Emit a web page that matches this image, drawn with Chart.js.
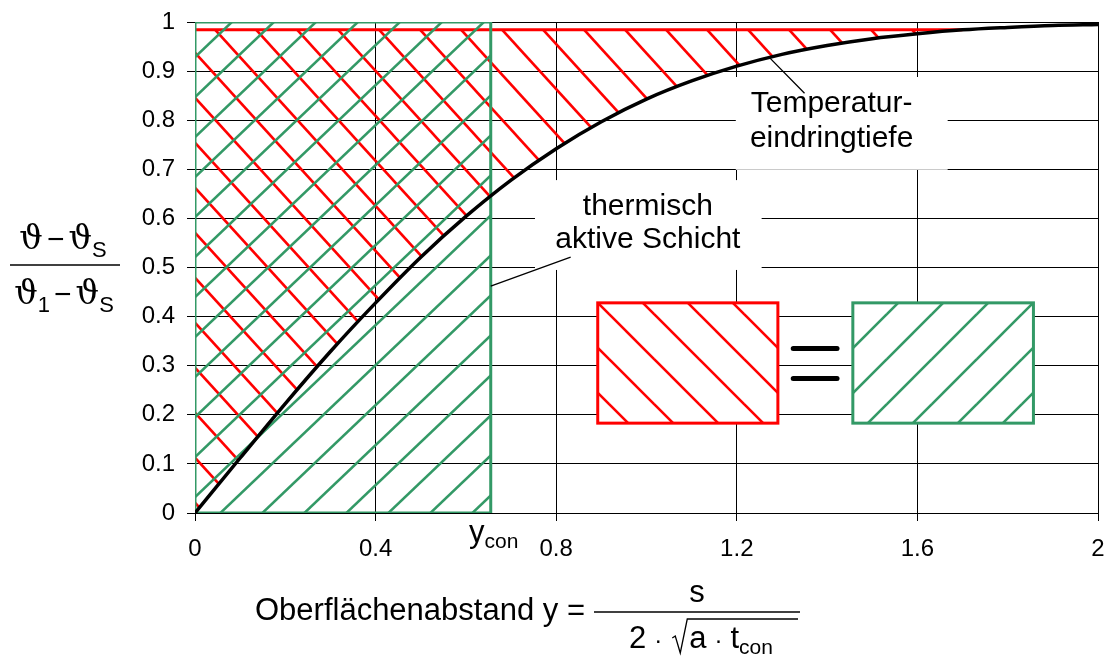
<!DOCTYPE html>
<html>
<head>
<meta charset="utf-8">
<script src="https://cdn.jsdelivr.net/npm/chart.js@4.4.1/dist/chart.umd.min.js"></script>
<style>
  html, body { margin: 0; padding: 0; background: #fff; }
</style>
</head>
<body>
<canvas id="myChart" width="1107" height="659"></canvas>
<script>
// temperature profile over the dimensionless surface distance
const depth = [0, 0.1, 0.2, 0.3, 0.4, 0.5, 0.6, 0.7, 0.8, 0.9, 1.0, 1.1, 1.2, 1.3, 1.4, 1.5, 1.6, 1.7, 1.8, 1.9, 2.0];
const tempRatio = [0, 0.112, 0.223, 0.329, 0.428, 0.521, 0.604, 0.678, 0.742, 0.797, 0.843, 0.880, 0.910, 0.934, 0.952, 0.966, 0.976, 0.984, 0.989, 0.993, 0.995];

// upper edge of the penetration area and where it meets the profile
const hatchTop = 0.984;
const hatchEnd = 1.7;
// width of the thermally active layer
const yCon = 0.655;

const xTickLabels = ['0', '0.4', '0.8', '1.2', '1.6', '2'];
const yTickLabels = ['0', '0.1', '0.2', '0.3', '0.4', '0.5', '0.6', '0.7', '0.8', '0.9', '1'];

const RED = '#ff0000';
const GREEN = '#339966';
const SANS = '"Liberation Sans", Arial, sans-serif';
const SERIF = '"DejaVu Serif", "Liberation Serif", serif';

// diagonal line pattern, one line running through (px, py)
function hatch(ctx, color, w, h, slash, px, py) {
    const tile = document.createElement('canvas');
    tile.width = w;
    tile.height = h;
    const g = tile.getContext('2d');
    g.strokeStyle = color;
    g.lineWidth = 2.6;
    for (let k = -1; k <= 1; k++) {
        g.beginPath();
        if (slash) {
            g.moveTo(k * w - w, 2 * h);
            g.lineTo(k * w + 2 * w, -h);
        } else {
            g.moveTo(k * w - w, -h);
            g.lineTo(k * w + 2 * w, 2 * h);
        }
        g.stroke();
    }
    const p = ctx.createPattern(tile, 'repeat');
    let off = slash ? px + py * w / h : px - py * w / h;
    off = Math.round(off - w * Math.floor(off / w));
    p.setTransform(new DOMMatrix().translate(off, 0));
    return p;
}

// draws a row of text pieces centred on cx
function textRun(ctx, parts, cx, base) {
    let total = 0;
    parts.forEach(p => {
        ctx.font = p.f;
        p.w = ctx.measureText(p.t).width + (p.gap || 0);
        total += p.w;
    });
    let x = cx - total / 2;
    parts.forEach(p => {
        ctx.font = p.f;
        if (p.t) ctx.fillText(p.t, x + (p.gap || 0) / 2, base + (p.dy || 0));
        p.x = x;
        x += p.w;
    });
    return parts;
}

function sampleBox(ctx, x0, y0, x1, y1, color, slash) {
    ctx.save();
    ctx.fillStyle = '#fff';
    ctx.fillRect(x0, y0, x1 - x0, y1 - y0);
    ctx.fillStyle = hatch(ctx, color, 45, 45, slash, slash ? x1 : x0, y0);
    ctx.fillRect(x0, y0, x1 - x0, y1 - y0);
    ctx.strokeStyle = color;
    ctx.lineWidth = 3;
    ctx.strokeRect(x0, y0, x1 - x0, y1 - y0);
    ctx.restore();
}

const overlay = {
    id: 'overlay',
    beforeDatasetsDraw(chart) {
        const ctx = chart.ctx;
        const X = v => chart.scales.x.getPixelForValue(v);
        const Y = v => chart.scales.y.getPixelForValue(v);
        // blank the grid behind both captions
        ctx.save();
        ctx.fillStyle = '#fff';
        ctx.fillRect(X(1.2) - 1, Y(0.888), X(1.667) - X(1.2) + 1, Y(0.699) - Y(0.888));
        ctx.fillRect(X(0.753), Y(0.678), X(1.255) - X(0.753), Y(0.495) - Y(0.678));
        ctx.restore();
    },
    afterDatasetsDraw(chart) {
        const ctx = chart.ctx;
        const X = v => chart.scales.x.getPixelForValue(v);
        const Y = v => chart.scales.y.getPixelForValue(v);

        // red area = green area
        sampleBox(ctx, X(0.892), Y(0.428), X(1.291), Y(0.183), RED, false);
        sampleBox(ctx, X(1.457), Y(0.428), X(1.857), Y(0.183), GREEN, true);
        ctx.save();
        ctx.strokeStyle = '#000';
        ctx.lineWidth = 5;
        ctx.lineCap = 'round';
        [0.335, 0.274].forEach(v => {
            ctx.beginPath();
            ctx.moveTo(X(1.325), Y(v));
            ctx.lineTo(X(1.422), Y(v));
            ctx.stroke();
        });

        // leader lines
        ctx.lineWidth = 1.3;
        ctx.lineCap = 'butt';
        ctx.beginPath();
        ctx.moveTo(X(1.273), Y(0.927));
        ctx.lineTo(X(1.350), Y(0.855));
        ctx.moveTo(X(yCon), Y(0.462));
        ctx.lineTo(X(0.832), Y(0.521));
        ctx.stroke();

        // captions
        ctx.fillStyle = '#000';
        ctx.font = '30px ' + SANS;
        ctx.textAlign = 'center';
        ctx.textBaseline = 'alphabetic';
        ctx.fillText('Temperatur-', X(1.41), Y(0.817));
        ctx.fillText('eindringtiefe', X(1.41), Y(0.745));
        ctx.fillText('thermisch', X(1.003), Y(0.607));
        ctx.fillText('aktive Schicht', X(1.003), Y(0.540));
        ctx.restore();
    },
    afterDraw(chart) {
        const ctx = chart.ctx;
        const X = v => chart.scales.x.getPixelForValue(v);
        ctx.save();
        ctx.fillStyle = '#000';
        ctx.strokeStyle = '#000';
        ctx.textAlign = 'left';
        ctx.textBaseline = 'alphabetic';

        // y_con below the axis
        textRun(ctx, [
            {t: 'y', f: '31px ' + SANS},
            {t: 'con', f: '21px ' + SANS, dy: 6}
        ], X(yCon) + 3, 542);

        // y axis title as a fraction
        const th = '33px ' + SERIF;
        const sub = '22px ' + SANS;
        const minus = '30px ' + SANS;
        textRun(ctx, [
            {t: '\u03D1', f: th},
            {t: '\u2212', f: minus, gap: 8},
            {t: '\u03D1', f: th},
            {t: 'S', f: sub, dy: 8}
        ], 63, 249);
        textRun(ctx, [
            {t: '\u03D1', f: th},
            {t: '1', f: sub, dy: 8},
            {t: '\u2212', f: minus, gap: 8},
            {t: '\u03D1', f: th},
            {t: 'S', f: sub, dy: 8}
        ], 64, 304);
        ctx.lineWidth = 1.5;
        ctx.beginPath();
        ctx.moveTo(10, 265);
        ctx.lineTo(120, 265);
        ctx.stroke();

        // x axis title with the definition of y
        ctx.font = '31px ' + SANS;
        ctx.textAlign = 'right';
        ctx.fillText('Oberfl\u00e4chenabstand y =', 585, 620);
        ctx.textAlign = 'left';
        const barL = 594, barR = 800;
        ctx.lineWidth = 1.5;
        ctx.beginPath();
        ctx.moveTo(barL, 612);
        ctx.lineTo(barR, 612);
        ctx.stroke();
        ctx.font = '31px ' + SANS;
        ctx.textAlign = 'center';
        ctx.fillText('s', (barL + barR) / 2, 602);
        ctx.textAlign = 'left';
        const den = textRun(ctx, [
            {t: '2', f: '31px ' + SANS},
            {t: '\u00b7', f: '24px ' + SANS, gap: 16},
            {t: '', f: '31px ' + SANS, gap: 19},
            {t: 'a', f: '31px ' + SANS},
            {t: '\u00b7', f: '24px ' + SANS, gap: 16},
            {t: 't', f: '31px ' + SANS},
            {t: 'con', f: '21px ' + SANS, dy: 6}
        ], (barL + barR) / 2 + 4, 648);
        // square root sign over a·t_con
        const r = den[2].x + 1;
        ctx.lineWidth = 1.3;
        ctx.beginPath();
        ctx.moveTo(r + 1, 638);
        ctx.lineTo(r + 4, 636);
        ctx.lineTo(r + 9, 653);
        ctx.lineTo(r + 16, 619);
        ctx.lineTo(barR - 2, 619);
        ctx.stroke();
        ctx.restore();
    }
};

const ctx = document.getElementById('myChart');
const myChart = new Chart(ctx, {
    type: 'line',
    data: {
        datasets: [
            {
                // profile
                data: depth.map((x, i) => ({x: x, y: tempRatio[i]})),
                borderColor: '#000',
                borderWidth: 3.5,
                pointRadius: 0,
                cubicInterpolationMode: 'monotone',
                fill: false,
                order: 0
            }, {
                // outline of the active layer
                data: [{x: 0, y: 0}, {x: 0, y: 1}, {x: yCon, y: 1}, {x: yCon, y: 0}, {x: 0, y: 0}],
                borderColor: GREEN,
                borderWidth: 3,
                pointRadius: 0,
                fill: false,
                order: 1
            }, {
                // hatch of the active layer
                data: [{x: 0, y: 1}, {x: yCon, y: 1}],
                borderWidth: 0,
                borderColor: 'rgba(0,0,0,0)',
                pointRadius: 0,
                fill: 'origin',
                backgroundColor: c => {
                    const ch = c.chart;
                    if (!ch.chartArea) return 'rgba(0,0,0,0)';
                    return hatch(ch.ctx, GREEN, 42, 40, true, ch.chartArea.left + 37, ch.chartArea.top);
                },
                order: 2
            }, {
                // penetration depth area between top line and profile
                data: [{x: 0, y: hatchTop}, {x: hatchEnd, y: hatchTop}],
                borderColor: RED,
                borderWidth: 3,
                pointRadius: 0,
                fill: {target: 0},
                backgroundColor: c => {
                    const ch = c.chart;
                    if (!ch.chartArea) return 'rgba(0,0,0,0)';
                    return hatch(ch.ctx, RED, 41, 45, false, ch.chartArea.left + 143, ch.scales.y.getPixelForValue(hatchTop));
                },
                order: 3
            }
        ]
    },
    options: {
        responsive: false,
        devicePixelRatio: 1,
        animation: false,
        events: [],
        layout: {
            padding: {top: 22, right: 9, bottom: 0, left: 0}
        },
        plugins: {
            legend: {display: false},
            tooltip: {enabled: false}
        },
        scales: {
            x: {
                type: 'linear',
                min: 0,
                max: 2,
                afterFit: s => {
                    s.height = 146;
                    s.paddingLeft = 0;
                    s.paddingRight = 0;
                },
                grid: {
                    color: '#000',
                    lineWidth: 1,
                    tickLength: 8
                },
                border: {color: '#000', width: 1},
                ticks: {
                    stepSize: 0.4,
                    padding: 14,
                    color: '#000',
                    maxRotation: 0,
                    font: {family: SANS, size: 24},
                    callback: (v, i) => xTickLabels[i]
                }
            },
            y: {
                min: 0,
                max: 1,
                afterFit: s => {
                    s.width = 195;
                    s.paddingTop = 0;
                    s.paddingBottom = 0;
                },
                grid: {
                    color: '#000',
                    lineWidth: 1,
                    tickLength: 8
                },
                border: {color: '#000', width: 1},
                ticks: {
                    stepSize: 0.1,
                    padding: 12,
                    color: '#000',
                    font: {family: SANS, size: 24},
                    callback: (v, i) => yTickLabels[i]
                }
            }
        }
    },
    plugins: [overlay]
});
</script>
</body>
</html>
